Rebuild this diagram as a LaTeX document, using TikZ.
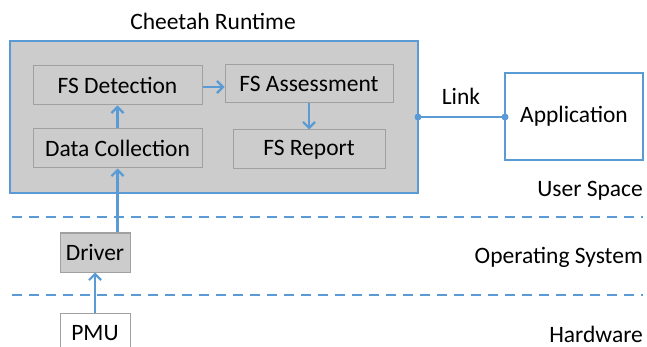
\documentclass[tikz,border=0pt]{standalone}
\usepackage{fontspec}
\setmainfont{Carlito}
\usetikzlibrary{arrows.meta}
\definecolor{lblue}{HTML}{5B9BD5}
\definecolor{boxgray}{HTML}{CCCCCC}
\definecolor{bordgray}{HTML}{A0A0A0}
\newcommand{\dnt}[1]{\raisebox{-1.5pt}{#1}}
\tikzset{
  lbl/.style={font=\fontsize{23.5}{26}\selectfont, inner sep=0pt},
  inbox/.style={draw=bordgray, line width=1pt, fill=boxgray, inner sep=0pt, font=\fontsize{23.5}{26}\selectfont},
  link/.style={draw=lblue, line width=2.2pt},
  arr/.style={link, -{Straight Barb[length=6pt,width=12pt,line width=2.2pt]}},
  dashln/.style={draw=lblue, line width=2.2pt, dash pattern=on 10pt off 7pt},
  dot/.style={circle, fill=lblue, inner sep=0pt, minimum size=7pt}
}
\begin{document}
\begin{tikzpicture}[x=1pt,y=-1pt]
\useasboundingbox (0,0) rectangle (647,347);
% outer runtime
\node[draw=lblue, line width=2.5pt, fill=boxgray, minimum width=408pt, minimum height=152pt, inner sep=0pt] (rt) at (214,117) {};
\node[lbl] (title) at (213,21) {Cheetah Runtime};
\node[inbox, minimum width=169pt, minimum height=39pt] (det) at (117.5,85.5) {\dnt{FS Detection}};
\node[inbox, minimum width=168pt, minimum height=38pt] (ass) at (309,84) {\dnt{FS Assessment}};
\node[inbox, minimum width=169pt, minimum height=39pt] (dc) at (117.5,148.5) {\dnt{Data Collection}};
\node[inbox, minimum width=152pt, minimum height=39pt] (rep) at (309,149.5) {\dnt{FS Report}};
% application
\node[draw=lblue, line width=2.2pt, fill=white, minimum width=138pt, minimum height=87pt, inner sep=0pt, font=\fontsize{23.5}{26}\selectfont] (app) at (574,116.5) {\dnt{Application}};
\coordinate (l1) at (418,117);
\coordinate (l2) at (505,117);
\draw[link] (l1) -- (l2);
\node[dot] at (l1) {};
\node[dot] at (l2) {};
\node[lbl] (lk) at (461,96) {Link};
% arrows inside
\draw[arr] (det.east |- 0,87) -- (ass.west |- 0,87);
\draw[arr] (ass.south) -- (rep.north);
\draw[arr] (dc.north) -- (det.south);
% layers
\coordinate (d1a) at (12,217); \coordinate (d1b) at (643,217);
\coordinate (d2a) at (12,295); \coordinate (d2b) at (643,295);
\draw[dashln] (d1a) -- (d1b);
\draw[dashln] (d2a) -- (d2b);
\node[inbox, minimum width=70pt, minimum height=39pt] (drv) at (95,252.5) {\dnt{Driver}};
\node[inbox, fill=white, minimum width=70pt, minimum height=40pt] (pmu) at (95,333) {\dnt{PMU}};
\draw[arr] (drv.north -| dc.south) -- (dc.south);
\draw[arr] (pmu.north) -- (drv.south);
\node[lbl, anchor=east] (us) at (643,191) {User Space};
\node[lbl, anchor=east] (os) at (643,257.5) {Operating System};
\node[lbl, anchor=base east] (hw) at (643,342) {Hardware};
\end{tikzpicture}
\end{document}
